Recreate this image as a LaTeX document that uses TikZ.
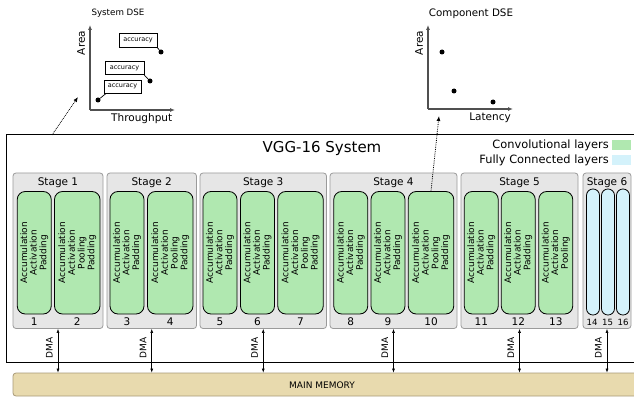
\documentclass[tikz,border=0pt]{standalone}
\usepackage{fontspec}
\setmainfont{DejaVu Sans}
\usetikzlibrary{arrows.meta}
\definecolor{convgreen}{HTML}{B0E8B0}
\definecolor{fcblue}{HTML}{D4F2FB}
\definecolor{stagegray}{HTML}{E6E6E6}
\definecolor{stageedge}{HTML}{9A9A9A}
\definecolor{memfill}{HTML}{E8DAAE}
\definecolor{memedge}{HTML}{A89A78}
\definecolor{axisgray}{HTML}{505050}
\begin{document}
\begin{tikzpicture}[x=1pt,y=-1pt,
  stagebox/.style={draw=stageedge, fill=stagegray, rounded corners=3pt, line width=0.8pt, inner sep=0pt, minimum height=155.5pt},
  stagetitle/.style={font=\fontsize{10.5}{12}\selectfont, inner sep=0pt},
  convlayer/.style={draw=black, fill=convgreen, rounded corners=8pt, line width=0.8pt, inner sep=0pt, rotate=90, align=center, font=\fontsize{9}{9.7}\selectfont, minimum width=122.5pt},
  narrow/.style={convlayer, minimum height=34pt},
  wide/.style={convlayer, minimum height=45.5pt},
  fclayer/.style={draw=black, fill=fcblue, rounded corners=6.4pt, line width=0.8pt, inner sep=0pt, rotate=90, minimum width=126pt, minimum height=13pt},
  num/.style={font=\fontsize{10.5}{12}\selectfont, inner sep=0pt},
  smallnum/.style={font=\fontsize{8.6}{10}\selectfont, inner sep=0pt},
  dma/.style={{Latex[length=4pt,width=3pt]}-{Latex[length=4pt,width=3pt]}, line width=0.6pt},
  dmalabel/.style={font=\fontsize{9}{10}\selectfont, rotate=90, inner sep=0pt},
  axis/.style={-{Latex[length=5pt,width=4pt]}, draw=axisgray, line width=1.1pt},
  axlabel/.style={font=\fontsize{10.5}{12}\selectfont, inner sep=0pt},
  dot/.style={circle, fill=black, inner sep=0pt, minimum size=5pt},
  accbox/.style={draw=black, fill=white, line width=0.6pt, font=\fontsize{6.5}{7}\selectfont, minimum width=37pt, minimum height=13.5pt, inner sep=0pt},
  dotarrow/.style={densely dotted, line width=0.8pt, -{Latex[length=5pt,width=4pt]}},
  legtext/.style={font=\fontsize{11.4}{13}\selectfont, inner sep=0pt, anchor=east}
]
\useasboundingbox (0,0) rectangle (634,398);

% ---------- System frame ----------
\draw[line width=1pt] (640,135) -- (6,135) -- (6,362) -- (640,362);
\node[font=\fontsize{15}{17}\selectfont, inner sep=0pt] (title) at (322,148) {VGG-16 System};

% legend
\node[legtext] (leg1) at (609,145) {Convolutional layers};
\node[legtext] (leg2) at (609,160) {Fully Connected layers};
\node[fill=convgreen, minimum width=19pt, minimum height=10.5pt, inner sep=0pt] (lg1) at (621.5,145.25) {};
\node[fill=fcblue, minimum width=19pt, minimum height=10.5pt, inner sep=0pt] (lg2) at (621.5,160.25) {};

% ---------- Main memory ----------
\node[draw=memedge, fill=memfill, rounded corners=3pt, line width=0.8pt, minimum width=627pt, minimum height=23pt, inner sep=0pt] (mem) at (326.5,384.5) {};
\node[font=\fontsize{9}{10}\selectfont, inner sep=0pt] (memtext) at (322,385) {MAIN MEMORY};

% ---------- Stages ----------
\node[stagebox, minimum width=90pt] (s1) at (58,250.75) {};
\node[stagebox, minimum width=89.5pt] (s2) at (151.75,250.75) {};
\node[stagebox, minimum width=126.5pt] (s3) at (263.25,250.75) {};
\node[stagebox, minimum width=127pt] (s4) at (393.5,250.75) {};
\node[stagebox, minimum width=117pt] (s5) at (519.5,250.75) {};
\node[stagebox, minimum width=48pt] (s6) at (607,250.75) {};

\node[stagetitle] (t1) at (58,183) {Stage 1};
\node[stagetitle] (t2) at (151.75,183) {Stage 2};
\node[stagetitle] (t3) at (263.25,183) {Stage 3};
\node[stagetitle] (t4) at (393.5,183) {Stage 4};
\node[stagetitle] (t5) at (519.5,183) {Stage 5};
\node[stagetitle] (t6) at (607,183) {Stage 6};

% ---------- Layers ----------
\node[narrow] (l1) at (34.25,252.75) {Accumulation\\Activation\\Padding};
\node[wide] (l2) at (77.25,252.75) {Accumulation\\Activation\\Pooling\\Padding};
\node[narrow] (l3) at (127,252.75) {Accumulation\\Activation\\Padding};
\node[wide] (l4) at (170.25,252.75) {Accumulation\\Activation\\Pooling\\Padding};
\node[narrow] (l5) at (220,252.75) {Accumulation\\Activation\\Padding};
\node[narrow] (l6) at (257.5,252.75) {Accumulation\\Activation\\Padding};
\node[wide] (l7) at (300.5,252.75) {Accumulation\\Activation\\Pooling\\Padding};
\node[narrow] (l8) at (350.75,252.75) {Accumulation\\Activation\\Padding};
\node[narrow] (l9) at (388,252.75) {Accumulation\\Activation\\Padding};
\node[wide] (l10) at (431,252.75) {Accumulation\\Activation\\Pooling\\Padding};
\node[narrow] (l11) at (481.25,252.75) {Accumulation\\Activation\\Padding};
\node[narrow] (l12) at (518.25,252.75) {Accumulation\\Activation\\Padding};
\node[narrow] (l13) at (555.75,252.75) {Accumulation\\Activation\\Pooling};
\node[fclayer] (l14) at (593,252) {};
\node[fclayer] (l15) at (608,252) {};
\node[fclayer] (l16) at (623,252) {};

% numbers
\node[num] (n1) at (34.25,322) {1};
\node[num] (n2) at (77.25,322) {2};
\node[num] (n3) at (127,322) {3};
\node[num] (n4) at (170.25,322) {4};
\node[num] (n5) at (220,322) {5};
\node[num] (n6) at (257.5,322) {6};
\node[num] (n7) at (300.5,322) {7};
\node[num] (n8) at (350.75,322) {8};
\node[num] (n9) at (388,322) {9};
\node[num] (n10) at (431,322) {10};
\node[num] (n11) at (481.25,322) {11};
\node[num] (n12) at (518.25,322) {12};
\node[num] (n13) at (555.75,322) {13};
\node[smallnum] (n14) at (592,322) {14};
\node[smallnum] (n15) at (607.5,322) {15};
\node[smallnum] (n16) at (623,322) {16};

% ---------- DMA ----------
\foreach \s in {s1,s2,s3,s4,s5,s6}{
  \draw[dma] (\s.south) -- (\s.south |- mem.north);
}
\node[dmalabel] (d1) at (49.3,348) {DMA};
\node[dmalabel] (d2) at (143,348) {DMA};
\node[dmalabel] (d3) at (254.5,348) {DMA};
\node[dmalabel] (d4) at (384.8,348) {DMA};
\node[dmalabel] (d5) at (510.8,348) {DMA};
\node[dmalabel] (d6) at (598.3,348) {DMA};

% ---------- System DSE plot ----------
\node[font=\fontsize{8.7}{10}\selectfont, inner sep=0pt] (sdse) at (118,13.3) {System DSE};
\coordinate (o1) at (90,110);
\coordinate (y1) at (90,25);
\coordinate (x1) at (175,110);
\draw[axis] (o1) -- (y1);
\draw[axis] (o1) -- (x1);
\node[axlabel, rotate=90] (area1) at (81,43) {Area};
\node[axlabel] (thr) at (141.7,118.3) {Throughput};
\node[dot] (p1) at (98,100) {};
\node[dot] (p2) at (150,81) {};
\node[dot] (p3) at (161,52) {};
\node[accbox] (b1) at (122.5,86.7) {accuracy};
\node[accbox, minimum width=39pt] (b2) at (124.5,68) {accuracy};
\node[accbox, minimum width=38pt] (b3) at (138,40.5) {accuracy};
\draw[line width=0.7pt] (p1) -- ([xshift=2pt]b1.south west);
\draw[line width=0.7pt] (p2) -- (b2.south east);
\draw[line width=0.7pt] (p3) -- (b3.south east);

% ---------- Component DSE plot ----------
\node[font=\fontsize{10.3}{12}\selectfont, inner sep=0pt] (cdse) at (471,13.3) {Component DSE};
\coordinate (o2) at (428,109);
\coordinate (y2) at (428,25);
\coordinate (x2) at (513,109);
\draw[axis] (o2) -- (y2);
\draw[axis] (o2) -- (x2);
\node[axlabel, rotate=90] (area2) at (419,43) {Area};
\node[axlabel] (lat) at (490,118) {Latency};
\node[dot] (q1) at (442,52) {};
\node[dot] (q2) at (454,91) {};
\node[dot] (q3) at (493,102) {};

% ---------- dotted arrows ----------
\coordinate (sysTop) at (52,135);
\coordinate (sysTip) at (78,97);
\draw[dotarrow] (sysTop) -- (sysTip);
\coordinate (compTip) at (439,116);
\draw[dotarrow] (l10.east) -- (compTip);
\end{tikzpicture}
\end{document}
